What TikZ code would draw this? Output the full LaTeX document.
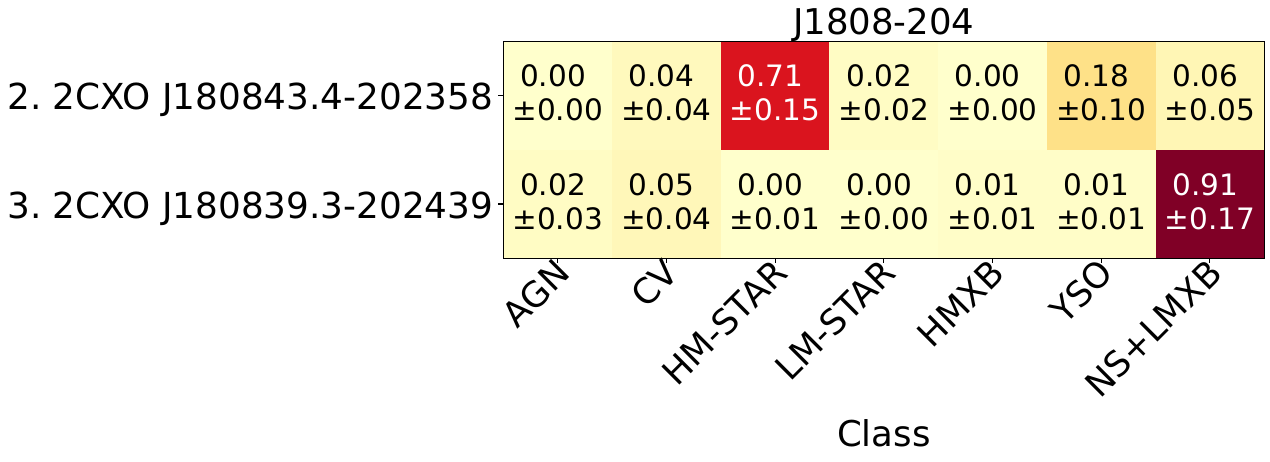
\documentclass[tikz,border=0pt]{standalone}
\usepackage{fontspec}
\setmainfont{DejaVu Sans}
\usetikzlibrary{positioning}

\definecolor{p000}{HTML}{FFFFCC}
\definecolor{p001}{HTML}{FFFDC8}
\definecolor{p002}{HTML}{FFFCC4}
\definecolor{p004}{HTML}{FFF9BD}
\definecolor{p005}{HTML}{FFF7B9}
\definecolor{p006}{HTML}{FFF6B5}
\definecolor{p018}{HTML}{FEE188}
\definecolor{p071}{HTML}{DA141E}
\definecolor{p091}{HTML}{800026}

\tikzset{
  cellval/.style={anchor=base, inner sep=0pt, font=\fontsize{29.5}{34}\selectfont},
  ticklab/.style={anchor=north east, rotate=45, inner sep=0pt, text height=0.73em, text depth=0pt, font=\fontsize{35}{40}\selectfont},
  rowlab/.style={anchor=base east, inner sep=0pt, font=\fontsize{35.8}{40}\selectfont},
  axlab/.style={anchor=base, inner sep=0pt, font=\fontsize{35.5}{40}\selectfont},
  spine/.style={line width=1.1pt}
}

\begin{document}
\frenchspacing
\begin{tikzpicture}[x=1pt, y=-1pt]
	\useasboundingbox (0,0) rectangle (1270,462);
	% heat map cells
	\foreach \r/\c/\v/\e/\f/\t in {1/1/0.00/0.00/p000/black, 1/2/0.04/0.04/p004/black, 1/3/0.71/0.15/p071/white, 1/4/0.02/0.02/p002/black, 1/5/0.00/0.00/p000/black, 1/6/0.18/0.10/p018/black, 1/7/0.06/0.05/p006/black,
	  2/1/0.02/0.03/p002/black, 2/2/0.05/0.04/p005/black, 2/3/0.00/0.01/p000/black, 2/4/0.00/0.00/p000/black, 2/5/0.01/0.01/p001/black, 2/6/0.01/0.01/p001/black, 2/7/0.91/0.17/p091/white}{
		\fill[\f] (503.3+\c*108.71-108.71, 41.3+\r*108.5-108.5) rectangle +(108.71,108.5);
		\node[cellval, text=\t] (v-\r-\c) at (503.3+\c*108.71-54.36, 41.3+\r*108.5-54.25-8.7) {\v\phantom{.}};
		\node[cellval, text=\t] (e-\r-\c) at (503.3+\c*108.71-54.36, 41.3+\r*108.5-54.25+25.2) {±\e};
	}
	\draw[spine] (503.3,41.3) rectangle (1264.3,258.3);
	% ticks
	\foreach \c in {1,...,7}
		\draw[spine] (503.3+\c*108.71-54.36,258.3) -- +(0,4.9);
	\foreach \r in {1,2}
		\draw[spine] (503.3,41.3+\r*108.5-54.25) -- +(-4.9,0);
	% labels
	\node[rowlab] (src-2) at (493.5,109.8) {2. 2CXO J180843.4-202358};
	\node[rowlab] (src-3) at (493.5,218.3) {3. 2CXO J180839.3-202439};
	\foreach \n [count=\c] in {AGN,CV,HM-STAR,LM-STAR,HMXB,YSO,NS+LMXB}
		\node[ticklab] (cls-\c) at (503.3+\c*108.71-54.36+9,270) {\n};
	\node[axlab] (title) at (883.8,34.3) {J1808-204};
	\node[axlab] (xlab) at (883.8,446.6) {Class};
\end{tikzpicture}
\end{document}
